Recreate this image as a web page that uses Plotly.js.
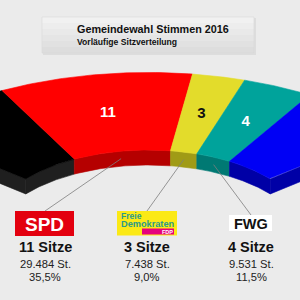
<!DOCTYPE html>
<html>
<head>
<meta charset="utf-8">
<script src="https://cdn.plot.ly/plotly-3.0.1.min.js"></script>
<style>
html,body{margin:0;padding:0;background:#ebebeb;}
#chart{width:300px;height:300px;}
</style>
</head>
<body>
<div id="chart"></div>
<script>
// ---- data ----
const parties     = ['CDU', 'SPD', 'FDP', 'FWG', 'Blau'];
const seats       = [7, 11, 3, 4, 6];
const votes       = [null, 29484, 7438, 9531, null];
const percents    = [null, 35.5, 9.0, 11.5, null];
const topColors   = ['#000000', '#ff0000', '#e3dc2b', '#00a39b', '#0000f5'];
const wallColors  = ['#1f1f1f', '#b50000', '#a09b16', '#007973', '#0000a6'];
const labelColors = ['#ffffff', '#ffffff', '#111111', '#ffffff', '#ffffff'];
const shownParties = ['SPD', 'FDP', 'FWG'];
const titleText    = 'Gemeindewahl Stimmen 2016';
const subtitleText = 'Vorläufige Sitzverteilung';

// ---- geometry of the 3D half ring (layout) ----
const G = {cx: 148, cy: 229, ro: 313, ri: 158, k: 0.5, depth: 15, degPerSeat: 3.27};
const colX = {SPD: 45, FDP: 147, FWG: 251};
const logoTop = {SPD: 211, FDP: 211, FWG: 215};

function pt(r, deg) {
  const a = deg * Math.PI / 180;
  return [G.cx + r * Math.cos(a), G.cy - G.k * r * Math.sin(a)];
}
function arc(r, a0, a1, dy) {
  const out = [];
  const n = 48;
  for (let i = 0; i <= n; i++) {
    const p = pt(r, a0 + (a1 - a0) * i / n);
    out.push([p[0], p[1] + dy]);
  }
  return out;
}
function poly(points, color) {
  const pts = points.concat([points[0]]);
  return {
    type: 'scatter', mode: 'lines', x: pts.map(p => p[0]), y: pts.map(p => p[1]),
    fill: 'toself', fillcolor: color, line: {color: color, width: 0.6},
    hoverinfo: 'skip', showlegend: false
  };
}
function fmtThousands(v) { return String(v).replace(/\B(?=(\d{3})+(?!\d))/g, '.'); }
function fmtPct(v) { return v.toFixed(1).replace('.', ',') + '%'; }

const total = seats.reduce((a, b) => a + b, 0);
const aStart = 90 + total * G.degPerSeat / 2;
const aEnd = 90 - total * G.degPerSeat / 2;

const traces = [];
// end faces
[[aStart, 0], [aEnd, seats.length - 1]].forEach(([a, idx]) => {
  const pi = pt(G.ri, a), po = pt(G.ro, a);
  traces.push(poly([pi, po, [po[0], po[1] + G.depth], [pi[0], pi[1] + G.depth]], wallColors[idx]));
});
// inner walls and top faces
const segs = [];
let cur = aStart;
seats.forEach((s, i) => {
  const a0 = cur, a1 = cur - s * G.degPerSeat;
  segs.push({a0, a1, mid: (a0 + a1) / 2});
  cur = a1;
});
segs.forEach((sg, i) => {
  traces.push(poly(arc(G.ri, sg.a0, sg.a1, 0).concat(arc(G.ri, sg.a1, sg.a0, G.depth)), wallColors[i]));
});
segs.forEach((sg, i) => {
  traces.push(poly(arc(G.ro, sg.a0, sg.a1, 0).concat(arc(G.ri, sg.a1, sg.a0, 0)), topColors[i]));
});
// seat labels on the ring (only those whose label lies inside the visible frame)
const lab = segs.map(sg => pt((G.ri + G.ro) / 2, sg.mid));
const vis = lab.map(p => p[0] > 10 && p[0] < 290);
traces.push({
  type: 'scatter', mode: 'text',
  x: lab.filter((p, i) => vis[i]).map(p => p[0]),
  y: lab.filter((p, i) => vis[i]).map(p => p[1]),
  text: seats.filter((s, i) => vis[i]).map(String), cliponaxis: true,
  textfont: {family: 'Liberation Sans, Arial, sans-serif', size: 15, weight: 'bold',
             color: labelColors.filter((c, i) => vis[i])},
  hoverinfo: 'skip', showlegend: false
});
// leader lines
shownParties.forEach(name => {
  const i = parties.indexOf(name);
  const p = pt(G.ri, segs[i].mid);
  traces.push({
    type: 'scatter', mode: 'lines', x: [p[0], colX[name]], y: [p[1] + G.depth / 2, logoTop[name]],
    line: {color: '#7d7d7d', width: 0.8}, hoverinfo: 'skip', showlegend: false
  });
});

// ---- decorations ----
const shapes = [];
const annotations = [];
const F = 'Liberation Sans, Arial, sans-serif';
// title box with soft gradient and shadow
shapes.push({type: 'rect', xref: 'x', yref: 'y', x0: 43, x1: 256, y0: 18, y1: 55, fillcolor: 'rgba(0,0,0,0.06)', line: {width: 0}});
const bandCols = ['#f1f1f1', '#ededed', '#e9e9e9', '#e5e5e5', '#e1e1e1', '#dddddd'];
bandCols.forEach((c, j) => {
  const h = (53 - 17) / bandCols.length;
  shapes.push({type: 'rect', xref: 'x', yref: 'y', x0: 42, x1: 254, y0: 17 + j * h, y1: 17 + (j + 1) * h + 0.3, fillcolor: c, line: {width: 0}});
});
shapes.push({type: 'rect', xref: 'x', yref: 'y', x0: 42, x1: 254, y0: 17, y1: 53, fillcolor: 'rgba(0,0,0,0)', line: {color: '#d8d8d8', width: 0.6}});
annotations.push({xref: 'x', yref: 'y', x: 75, y: 29, xanchor: 'left', yanchor: 'middle', showarrow: false,
  text: titleText, font: {family: F, size: 10.8, weight: 'bold', color: '#111'}});
annotations.push({xref: 'x', yref: 'y', x: 75, y: 42, xanchor: 'left', yanchor: 'middle', showarrow: false,
  text: subtitleText, font: {family: F, size: 8.6, weight: 'bold', color: '#111'}});

// logos
shapes.push({type: 'rect', xref: 'x', yref: 'y', x0: 15, x1: 74, y0: 211, y1: 236, fillcolor: '#e3000f', line: {width: 0}});
annotations.push({xref: 'x', yref: 'y', x: 44.5, y: 224, showarrow: false, xanchor: 'center', yanchor: 'middle',
  text: 'SPD', font: {family: F, size: 19, weight: 'bold', color: '#ffffff'}});
shapes.push({type: 'rect', xref: 'x', yref: 'y', x0: 117, x1: 177, y0: 211, y1: 235.5, fillcolor: '#fbe916', line: {width: 0}});
shapes.push({type: 'rect', xref: 'x', yref: 'y', x0: 142, x1: 174, y0: 228.5, y1: 234.5, fillcolor: '#e5007d', line: {width: 0}});
annotations.push({xref: 'x', yref: 'y', x: 118.5, y: 215.5, showarrow: false, xanchor: 'left', yanchor: 'middle',
  text: 'Freie', font: {family: F, size: 8.6, weight: 'bold', color: '#2b9a8a'}});
annotations.push({xref: 'x', yref: 'y', x: 118.5, y: 224, showarrow: false, xanchor: 'left', yanchor: 'middle',
  text: 'Demokraten', font: {family: F, size: 9.2, weight: 'bold', color: '#2b9a8a'}});
annotations.push({xref: 'x', yref: 'y', x: 167, y: 231.7, showarrow: false, xanchor: 'center', yanchor: 'middle',
  text: 'FDP', font: {family: F, size: 5.5, weight: 'bold', color: '#ffffff'}});
shapes.push({type: 'rect', xref: 'x', yref: 'y', x0: 229, x1: 272, y0: 215, y1: 231, fillcolor: '#ffffff', line: {width: 0}});
annotations.push({xref: 'x', yref: 'y', x: 250.5, y: 223.5, showarrow: false, xanchor: 'center', yanchor: 'middle',
  text: 'FWG', font: {family: F, size: 14.5, weight: 'bold', color: '#111'}});

// result texts under the logos
shownParties.forEach(name => {
  const i = parties.indexOf(name);
  const x = colX[name];
  annotations.push({xref: 'x', yref: 'y', x: x, y: 247, showarrow: false, xanchor: 'center', yanchor: 'middle',
    text: seats[i] + ' Sitze', font: {family: F, size: 14.5, weight: 'bold', color: '#111'}});
  annotations.push({xref: 'x', yref: 'y', x: x, y: 264, showarrow: false, xanchor: 'center', yanchor: 'middle',
    text: fmtThousands(votes[i]) + ' St.', font: {family: F, size: 11.2, color: '#222'}});
  annotations.push({xref: 'x', yref: 'y', x: x, y: 277, showarrow: false, xanchor: 'center', yanchor: 'middle',
    text: fmtPct(percents[i]), font: {family: F, size: 11.2, color: '#222'}});
});

const layout = {
  width: 300, height: 300,
  margin: {l: 0, r: 0, t: 0, b: 0, pad: 0},
  paper_bgcolor: '#ebebeb', plot_bgcolor: '#ebebeb',
  xaxis: {range: [0, 300], visible: false, fixedrange: true},
  yaxis: {range: [300, 0], visible: false, fixedrange: true},
  shapes: shapes, annotations: annotations, showlegend: false
};
Plotly.newPlot('chart', traces, layout, {staticPlot: true, displayModeBar: false});
</script>
</body>
</html>
